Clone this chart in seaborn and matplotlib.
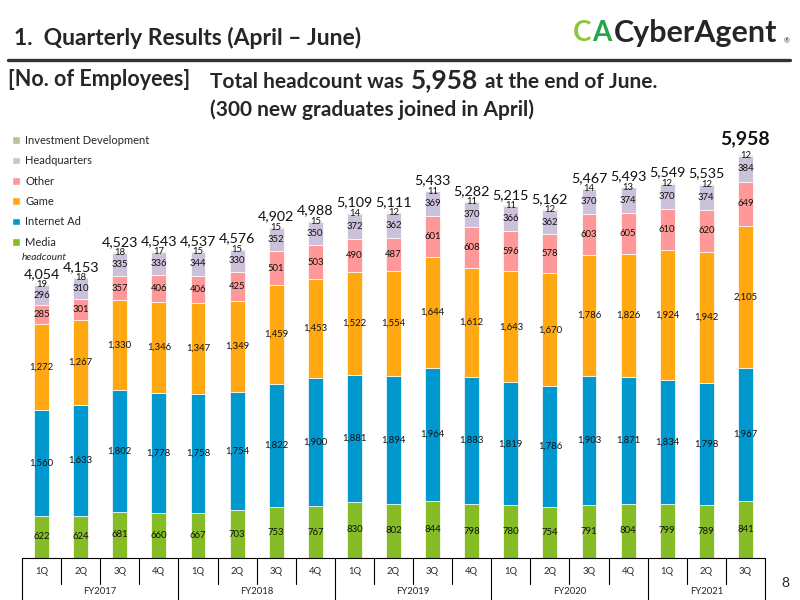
import numpy as np
import pandas as pd
import matplotlib.pyplot as plt
import matplotlib.transforms as mtransforms
from matplotlib.patches import Patch
import seaborn as sns

# data
fiscal_years = ["FY2017", "FY2018", "FY2019", "FY2020", "FY2021"]
quarters = ["1Q", "2Q", "3Q", "4Q"] * 4 + ["1Q", "2Q", "3Q"]
periods = [f"{fiscal_years[i // 4]} {q}" for i, q in enumerate(quarters)]

segments = ["Media", "Internet Ad", "Game", "Other", "Headquarters", "Investment Development"]
media = [622, 624, 681, 660, 667, 703, 753, 767, 830, 802, 844, 798, 780, 754, 791, 804, 799, 789, 841]
internet_ad = [1560, 1633, 1802, 1778, 1758, 1754, 1822, 1900, 1881, 1894, 1964, 1883, 1819, 1786, 1903, 1871, 1834, 1798, 1967]
game = [1272, 1267, 1330, 1346, 1347, 1349, 1459, 1453, 1522, 1554, 1644, 1612, 1643, 1670, 1786, 1826, 1924, 1942, 2105]
other = [285, 301, 357, 406, 406, 425, 501, 503, 490, 487, 601, 608, 596, 578, 603, 605, 610, 620, 649]
headquarters = [296, 310, 335, 336, 344, 330, 352, 350, 372, 362, 369, 370, 366, 362, 370, 374, 370, 374, 384]
invest_dev = [19, 18, 18, 17, 15, 15, 15, 15, 14, 12, 11, 11, 11, 12, 14, 13, 12, 12, 12]
totals = [4054, 4153, 4523, 4543, 4537, 4576, 4902, 4988, 5109, 5111, 5433, 5282, 5215, 5162, 5467, 5493, 5549, 5535, 5958]

colors = ["#86BC25", "#0099CF", "#FFA812", "#FF9999", "#CCC1DA", "#C4BD97"]

sns.set_style("white")
plt.rcParams["font.family"] = ["Lato", "DejaVu Sans"]

fig = plt.figure(figsize=(8, 6), dpi=100)
ax = fig.add_axes([22 / 800, 1 - 558 / 600, 743 / 800, 428 / 600])

series = [media, internet_ad, game, other, headquarters, invest_dev]
bottom = np.zeros(len(periods))
for name, vals, col in zip(segments, series, colors):
    sns.barplot(x=periods, y=vals, color=col, saturation=1, width=0.38, errorbar=None,
                bottom=bottom.copy(), edgecolor="white", linewidth=0.5, ax=ax)
    for i, v in enumerate(vals):
        ax.text(i, bottom[i] + v / 2, f"{v:,}", ha="center", va="center",
                fontsize=6.8, color="#111111")
    bottom += np.array(vals)

for i, t in enumerate(totals):
    last = i == len(totals) - 1
    ax.annotate(f"{t:,}", (i, t), xytext=(0, 6 if last else 3), textcoords="offset points",
                ha="center", va="bottom", fontsize=14 if last else 10.3,
                fontweight="bold" if last else "normal", color="#111111")

ax.set_xlim(-0.5, len(periods) - 0.5)
ax.set_ylim(0, 6330)
ax.set_yticks([])
ax.set_xticks([])
ax.set_xlabel("")
sns.despine(ax=ax, left=True, bottom=True)

# category table under the bars
tr = mtransforms.blended_transform_factory(ax.transData, fig.transFigure)
y_top, y_mid, y_bot = 1 - 558 / 600, 1 - 584 / 600, 1 - 600 / 600
ax.plot([-0.5, len(periods) - 0.5], [y_top, y_top], color="black", lw=0.8, transform=tr, clip_on=False)
for k in range(len(periods) + 1):
    xb = k - 0.5
    y_end = y_bot if (k % 4 == 0 or k == len(periods)) else y_mid
    ax.plot([xb, xb], [y_top, y_end], color="black", lw=0.8, transform=tr, clip_on=False)
for i, q in enumerate(quarters):
    ax.text(i, 1 - 571 / 600, q, ha="center", va="center", fontsize=6.8, transform=tr)
for j, fy in enumerate(fiscal_years):
    n = min(4, len(periods) - 4 * j)
    ax.text(4 * j + (n - 1) / 2, 1 - 591 / 600, fy, ha="center", va="center", fontsize=6.8, transform=tr)

# legend
handles = [Patch(facecolor=c, label=s) for s, c in zip(segments, colors)][::-1]
fig.legend(handles=handles, loc="upper left", bbox_to_anchor=(12 / 800, 1 - 135 / 600),
           frameon=False, fontsize=8, handlelength=0.7, handleheight=0.7,
           handletextpad=0.5, labelspacing=0.84, borderpad=0, borderaxespad=0)
fig.text(22 / 800, 1 - 258 / 600, "headcount", fontsize=7.3, style="italic", va="center")

# header
fig.text(14 / 800, 1 - 38 / 600, "1.  Quarterly Results (April \u2013 June)", fontsize=16.5,
         fontweight="bold", va="center")
fig.add_artist(plt.Line2D([8 / 800, 790 / 800], [1 - 60 / 600] * 2, color="#333333", lw=2.4))
c_txt = fig.text(573 / 800, 1 - 33 / 600, "C", fontsize=20, fontweight="bold", color="#8CC63F", va="center")
ax.annotate("A", xy=(1, 0.5), xycoords=c_txt, xytext=(0.5, 0), textcoords="offset points",
            fontsize=20, fontweight="bold", color="#22A84A", va="center", annotation_clip=False)
fig.text(614 / 800, 1 - 33 / 600, "CyberAgent", fontsize=22, fontweight="bold", va="center")
fig.text(784 / 800, 1 - 41 / 600, "\u00ae", fontsize=5, va="center")

fig.text(8 / 800, 1 - 80 / 600, "[No. of Employees]", fontsize=15.5, fontweight="bold", va="center")
t1 = fig.text(210 / 800, 1 - 82 / 600, "Total headcount was", fontsize=15, fontweight="bold",
              va="center")
t2 = ax.annotate("5,958", xy=(1, 0), xycoords=t1, xytext=(5, 0), textcoords="offset points",
                 fontsize=19, fontweight="bold", va="bottom", annotation_clip=False)
ax.annotate("at the end of June.", xy=(1, 0), xycoords=t2, xytext=(5, 0), textcoords="offset points",
            fontsize=15, fontweight="bold", va="bottom", annotation_clip=False)
fig.text(210 / 800, 1 - 110 / 600, "(300 new graduates joined in April)", fontsize=15,
         fontweight="bold", va="center")
fig.text(785 / 800, 1 - 583 / 600, "8", fontsize=10, va="center", ha="center")

fig.savefig("out.png", dpi=100)
